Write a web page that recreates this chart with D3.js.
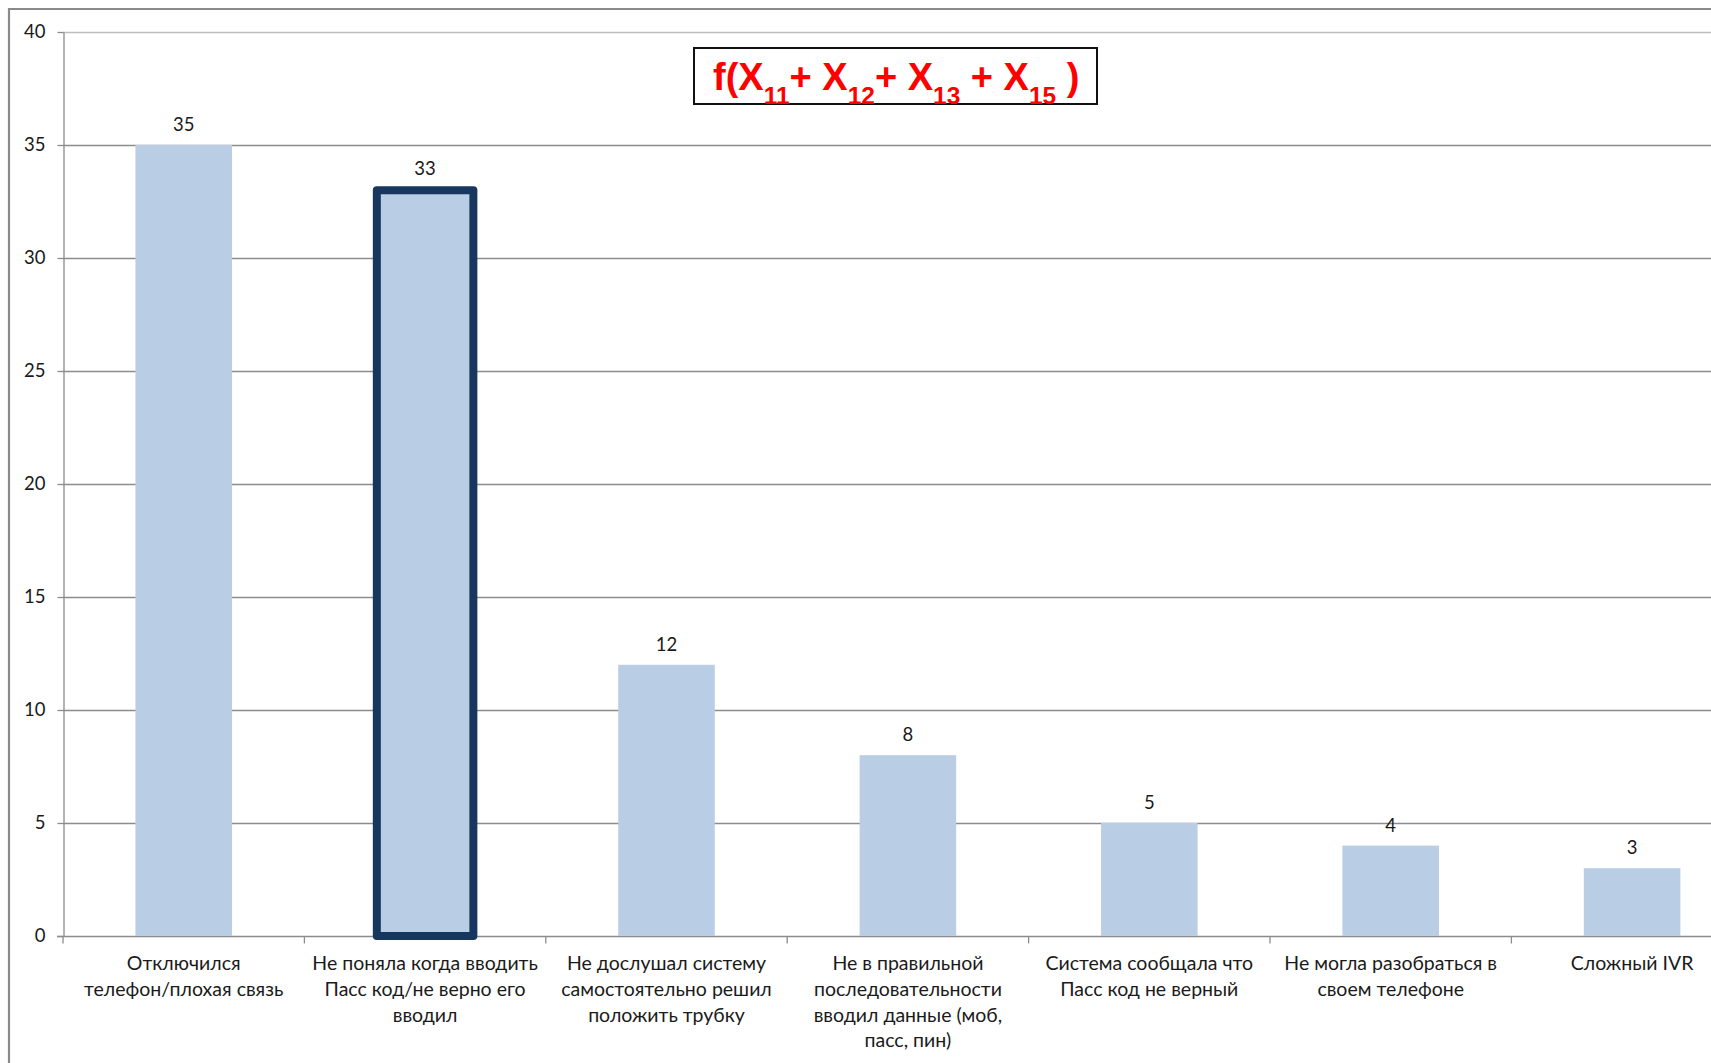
<!DOCTYPE html>
<html>
<head>
<meta charset="utf-8">
<script src="https://cdn.jsdelivr.net/npm/d3@7"></script>
<style>
  html, body { margin: 0; padding: 0; background: #fff; overflow: hidden; }
  svg { display: block; }
</style>
</head>
<body>
<svg id="chart" width="1711" height="1063"></svg>
<script>
// Reasons calls were dropped in the IVR passcode step
const categories = [
  "Отключился\nтелефон/плохая связь",
  "Не поняла когда вводить\nПасс код/не верно его\nвводил",
  "Не дослушал систему\nсамостоятельно решил\nположить трубку",
  "Не в правильной\nпоследовательности\nвводил данные (моб,\nпасс, пин)",
  "Система сообщала что\nПасс код не верный",
  "Не могла разобраться в\nсвоем телефоне",
  "Сложный IVR"
];
const values = [35, 33, 12, 8, 5, 4, 3];
const highlighted = [false, true, false, false, false, false, false];
const yTicks = [0, 5, 10, 15, 20, 25, 30, 35, 40];

// Formula caption: [text, isSubscript]
const formulaParts = [
  ["f(X", false], ["11", true], ["+ X", false], ["12", true],
  ["+ X", false], ["13", true], [" + X", false], ["15", true], [" )", false]
];

const W = 1711, H = 1063;
const plotLeft = 63, step = 241.4;
const svg = d3.select("#chart");
const font = "Lato, 'Open Sans', sans-serif";
const ink = "#1a1a1a";

const x = d3.scaleBand()
  .domain(categories)
  .range([plotLeft, plotLeft + step * categories.length])
  .paddingInner(0.6)
  .paddingOuter(0.3);
const y = d3.scaleLinear().domain([0, 40]).range([936, 32]);

// Outer frame (left and top edges visible)
svg.append("path")
  .attr("d", `M9,${H} V9 H${W}`)
  .attr("fill", "none").attr("stroke", "#8a8a8a").attr("stroke-width", 2.2);

// Horizontal gridlines
svg.append("g").selectAll("line")
  .data(yTicks.filter(t => t > 0))
  .join("line")
  .attr("x1", plotLeft).attr("x2", W)
  .attr("y1", d => Math.round(y(d)) + 0.5).attr("y2", d => Math.round(y(d)) + 0.5)
  .attr("stroke", d => d === 40 ? "#bdbdbd" : "#8c8c8c")
  .attr("stroke-width", 1.3);

// Y axis
const yAxis = svg.append("g")
  .attr("transform", `translate(${plotLeft + 0.5},0)`)
  .call(d3.axisLeft(y).tickValues(yTicks).tickSize(6).tickPadding(12).tickSizeOuter(0));
yAxis.select(".domain").attr("stroke", "#8c8c8c").attr("stroke-width", 1.3);
yAxis.selectAll(".tick line").attr("stroke", "#8c8c8c").attr("stroke-width", 1.3);
yAxis.selectAll(".tick text")
  .attr("font-family", font).attr("font-size", 18.5).attr("fill", ink);

// X axis baseline and category separators
const base = Math.round(y(0)) + 0.5;
svg.append("line")
  .attr("x1", plotLeft - 6).attr("x2", W).attr("y1", base).attr("y2", base)
  .attr("stroke", "#8c8c8c").attr("stroke-width", 1.3);
svg.append("g").selectAll("line")
  .data(d3.range(categories.length + 1))
  .join("line")
  .attr("x1", i => plotLeft + i * step).attr("x2", i => plotLeft + i * step)
  .attr("y1", base).attr("y2", base + 7)
  .attr("stroke", "#8c8c8c").attr("stroke-width", 1.3);

// Bars
svg.append("g").selectAll("rect")
  .data(categories)
  .join("rect")
  .attr("x", d => x(d))
  .attr("width", x.bandwidth())
  .attr("y", (d, i) => y(values[i]))
  .attr("height", (d, i) => y(0) - y(values[i]))
  .attr("fill", "#b9cde5")
  .attr("stroke", (d, i) => highlighted[i] ? "#17375e" : "none")
  .attr("stroke-width", (d, i) => highlighted[i] ? 8 : 0)
  .attr("stroke-linejoin", "round");

// Value labels
svg.append("g").selectAll("text")
  .data(categories)
  .join("text")
  .attr("x", d => x(d) + x.bandwidth() / 2)
  .attr("y", (d, i) => y(values[i]) - (highlighted[i] ? 15 : 14))
  .attr("text-anchor", "middle")
  .attr("font-family", font).attr("font-size", 18.5).attr("fill", ink)
  .text((d, i) => values[i]);

// Category labels (multi-line)
const catG = svg.append("g");
categories.forEach(c => {
  const cx = x(c) + x.bandwidth() / 2;
  const t = catG.append("text")
    .attr("text-anchor", "middle")
    .attr("font-family", font).attr("font-size", 19.5).attr("fill", ink);
  c.split("\n").forEach((line, j) => {
    t.append("tspan")
      .attr("x", cx)
      .attr("y", 970 + j * 25.8)
      .text(line);
  });
});

// Formula caption box
svg.append("rect")
  .attr("x", 694).attr("y", 48).attr("width", 403).attr("height", 56)
  .attr("fill", "#fff").attr("stroke", "#111").attr("stroke-width", 2);
const ft = svg.append("text")
  .attr("x", 713)
  .attr("font-family", "'Liberation Sans', Arial, sans-serif")
  .attr("font-weight", "bold").attr("fill", "#ff0000")
  .attr("xml:space", "preserve");
formulaParts.forEach(([s, sub]) => {
  ft.append("tspan")
    .attr("font-size", sub ? 24.5 : 38)
    .attr("y", sub ? 104 : 90)
    .text(s);
});
</script>
</body>
</html>
